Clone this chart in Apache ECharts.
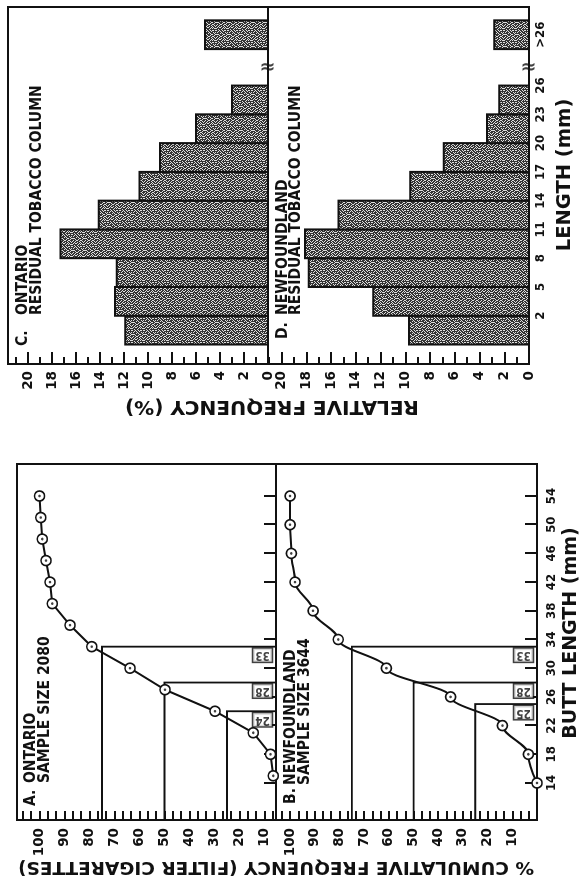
<!DOCTYPE html>
<html>
<head>
<meta charset="utf-8">
<script src="https://cdn.jsdelivr.net/npm/echarts@6/dist/echarts.min.js"></script>
<style>
html,body{margin:0;padding:0;width:580px;height:891px;overflow:hidden;background:#fff}
#chart{position:absolute;left:0;top:0;width:891px;height:580px;transform-origin:0 0;transform:translate(0,891px) rotate(-90deg);}
</style>
</head>
<body>
<div id="chart"></div>
<script>
// ---------------- DATA ----------------
const ontarioButtMm = [15, 18, 21, 24, 27, 30, 33, 36, 39, 42, 45, 48, 51, 54];
const ontarioCumPct = [6.5, 7.6, 14.5, 29.8, 49.8, 63.8, 79.1, 87.8, 94.9, 95.8, 97.4, 98.9, 99.5, 100];
const nfldButtMm = [14, 18, 22, 26, 30, 34, 38, 42, 46, 50, 54];
const nfldCumPct = [0, 3.5, 14, 35, 61, 80.5, 90.7, 98, 99.5, 100, 100];
const quartilePct = [25, 50, 75];
const ontarioQuartileMm = [24, 28, 33];
const nfldQuartileMm = [25, 28, 33];
const buttLengthTicks = [14, 18, 22, 26, 30, 34, 38, 42, 46, 50, 54];
const cumPctTicks = [10, 20, 30, 40, 50, 60, 70, 80, 90, 100];
const residualBinEdges = [-1, 2, 5, 8, 11, 14, 17, 20, 23, 26];
const residualEdgeLabels = ['2', '5', '8', '11', '14', '17', '20', '23', '26'];
const overflowLabel = '>26';
const ontarioResidualPct = [11.9, 12.75, 12.6, 17.3, 14.1, 10.7, 9.0, 6.0, 3.0];
const ontarioOver26Pct = 5.25;
const nfldResidualPct = [9.7, 12.6, 17.8, 18.1, 15.4, 9.6, 6.9, 3.4, 2.4];
const nfldOver26Pct = 2.8;
const relFreqTicks = [0, 2, 4, 6, 8, 10, 12, 14, 16, 18, 20];

// ---------------- LAYOUT ----------------
const A_X = [8.84, 58.46], A_Y = [5.4, 109];
const B_Y = [0, 105.7];
const C_X = [-3.03, 34.19], C_Y = [0, 21.67], D_Y = [0, 21.1];
const OVER_BIN = [29.8, 32.8];
const OVER_LABEL_AT = 31.3;
const BREAK_AT = 28.1;

const FONT = "'DejaVu Sans', sans-serif";
const FONT_C = "'DejaVu Sans Condensed', 'Liberation Sans Narrow', 'DejaVu Sans', sans-serif";
const INK = '#111';

const cumMinorTicks = [];
for (let k = 1; k <= 32; k++) cumMinorTicks.push(k * 10 / 3);

function makeStipple() {
  const rows = [
    '#.##.###.#.#',
    '##.#.#.####.',
    '.###.##.#.##',
    '#.#.####.##.',
    '##.##.#.###.',
    '.#.###.##.##',
    '###.#.##.#.#',
    '#.##.##.###.',
    '.#.#.###.#.#',
    '##.###.#.##.',
    '#.#.#.####.#',
    '.###.#.#.#.#'
  ];
  const n = rows.length;
  const c = document.createElement('canvas');
  c.width = n; c.height = n;
  const ctx = c.getContext('2d');
  rows.forEach((r, y) => {
    for (let x = 0; x < n; x++) {
      ctx.fillStyle = r[x] === '#' ? '#333333' : '#dedede';
      ctx.fillRect(x, y, 1, 1);
    }
  });
  return c;
}
const stipple = makeStipple();

const grids = [
  { left: 71, top: 17, width: 356, height: 259 },   // A
  { left: 71, top: 276, width: 356, height: 261 },  // B
  { left: 527, top: 8, width: 357, height: 260 },   // C
  { left: 527, top: 268, width: 357, height: 261 }  // D
].map(g => Object.assign(g, { show: true, borderColor: INK, borderWidth: 2, backgroundColor: 'transparent', containLabel: false, outerBoundsMode: 'none' }));

function mmAxis(gi, showLabels) {
  return {
    type: 'value', gridIndex: gi, position: 'bottom', offset: 0, min: A_X[0], max: A_X[1],
    axisLine: { show: false, onZero: false }, splitLine: { show: false },
    axisTick: { show: true, inside: true, length: 12, customValues: buttLengthTicks, lineStyle: { color: INK, width: 2 } },
    axisLabel: { show: showLabels, customValues: buttLengthTicks, margin: 8, color: INK, fontFamily: FONT_C, fontWeight: 'bold', fontSize: 13 }
  };
}
function binAxis(gi, showLabels) {
  const vals = residualBinEdges.slice(1).concat([OVER_LABEL_AT]);
  const labs = residualEdgeLabels.concat([overflowLabel]);
  return {
    type: 'value', gridIndex: gi, position: 'bottom', offset: 0, min: C_X[0], max: C_X[1],
    axisLine: { show: false, onZero: false }, splitLine: { show: false }, axisTick: { show: false },
    axisLabel: {
      show: showLabels, customValues: vals, margin: 5, color: INK, fontFamily: FONT_C, fontWeight: 'bold', fontSize: 13,
      formatter: v => { const i = vals.findIndex(x => Math.abs(x - v) < 1e-6); return i >= 0 ? labs[i] : ''; }
    }
  };
}
function cumAxis(gi, ext) {
  return {
    type: 'value', gridIndex: gi, position: 'left', offset: 0, min: ext[0], max: ext[1],
    axisLine: { show: false, onZero: false }, splitLine: { show: false },
    axisTick: { show: true, inside: true, length: 9, customValues: cumMinorTicks.filter(v => v > ext[0] && v < ext[1]), lineStyle: { color: INK, width: 2 } },
    axisLabel: { show: true, customValues: cumPctTicks, margin: 8, color: INK, fontFamily: FONT, fontWeight: 'bold', fontSize: 13.5 }
  };
}
function relAxis(gi, ext) {
  return {
    type: 'value', gridIndex: gi, position: 'left', offset: 0, min: ext[0], max: ext[1], interval: 2,
    axisLine: { show: false, onZero: false }, splitLine: { show: false }, minorSplitLine: { show: false },
    axisTick: { show: true, inside: true, length: 12, lineStyle: { color: INK, width: 2 } },
    minorTick: { show: true, splitNumber: 2, length: 7, lineStyle: { color: INK, width: 2 } },
    axisLabel: { show: true, customValues: relFreqTicks, margin: 7, color: INK, fontFamily: FONT, fontWeight: 'bold', fontSize: 13.5 }
  };
}

function curveSeries(xi, yi, xs, ys, smooth) {
  const pts = xs.map((m, i) => [m, ys[i]]);
  return [
    {
      type: 'line', xAxisIndex: xi, yAxisIndex: yi, data: pts, smooth: smooth, smoothMonotone: 'x',
      symbol: 'circle', symbolSize: 10, showAllSymbol: true, z: 4,
      lineStyle: { color: INK, width: 2 },
      itemStyle: { color: '#fff', borderColor: INK, borderWidth: 1.7 }
    },
    {
      type: 'scatter', xAxisIndex: xi, yAxisIndex: yi, data: pts, symbolSize: 2.6, z: 5,
      itemStyle: { color: INK }
    }
  ];
}
function quartileSeries(xi, yi, qmm, xMin, yMin) {
  return [
    {
      type: 'lines', coordinateSystem: 'cartesian2d', xAxisIndex: xi, yAxisIndex: yi, polyline: true, z: 3,
      lineStyle: { color: INK, width: 1.8, opacity: 1 },
      data: qmm.map((m, i) => ({ coords: [[xMin, quartilePct[i]], [m, quartilePct[i]], [m, yMin]] }))
    },
    {
      type: 'scatter', xAxisIndex: xi, yAxisIndex: yi, symbolSize: 1, z: 6,
      itemStyle: { color: 'transparent' },
      data: qmm.map(m => [m, yMin]),
      label: {
        show: true, formatter: p => String(p.value[0]), rotate: 90, position: [-8, -13],
        align: 'center', verticalAlign: 'middle',
        fontFamily: FONT_C, fontWeight: 'bold', fontSize: 11.5, color: INK,
        backgroundColor: '#fff', borderColor: INK, borderWidth: 1.5, padding: [1, 2, 0, 2]
      }
    }
  ];
}
function barSeries(xi, yi, vals, over) {
  const data = vals.map((v, i) => [residualBinEdges[i], residualBinEdges[i + 1], v]);
  data.push([OVER_BIN[0], OVER_BIN[1], over]);
  return [
    {
      type: 'custom', xAxisIndex: xi, yAxisIndex: yi, data: data, z: 3,
      renderItem: (params, api) => {
        const p0 = api.coord([api.value(0), api.value(2)]);
        const p1 = api.coord([api.value(1), 0]);
        return {
          type: 'rect',
          shape: { x: p0[0], y: p0[1], width: p1[0] - p0[0], height: p1[1] - p0[1] },
          style: { fill: { image: stipple, repeat: 'repeat' }, stroke: INK, lineWidth: 2 }
        };
      }
    },
    {
      type: 'scatter', xAxisIndex: xi, yAxisIndex: yi, symbolSize: 1, z: 7,
      itemStyle: { color: 'transparent' }, data: [[BREAK_AT, 0]],
      label: { show: true, formatter: '\u2248', rotate: 90, position: [0, 0], align: 'center', verticalAlign: 'middle', fontSize: 19, fontWeight: 'bold', color: INK, fontFamily: FONT }
    }
  ];
}

function txt(text, x, y, size, opts) {
  return Object.assign({
    type: 'text', x: x, y: y, silent: true,
    style: { text: text, fill: INK, font: 'bold ' + size + 'px ' + ((opts && opts.cond) ? FONT_C : FONT), textAlign: (opts && opts.align) || 'left', textVerticalAlign: 'middle' }
  }, (opts && opts.rot) ? { rotation: opts.rot } : {});
}

const TS = 15.5;
const graphics = [
  // panel titles
  txt('A.', 85, 31, TS, { cond: true }),
  txt('ONTARIO', 108, 31, TS, { cond: true }),
  txt('SAMPLE SIZE 2080', 108, 44.5, TS, { cond: true }),
  txt('B.', 87, 291, TS, { cond: true }),
  txt('NEWFOUNDLAND', 106, 291, TS, { cond: true }),
  txt('SAMPLE SIZE 3644', 106, 304.5, TS, { cond: true }),
  txt('C.', 545, 23, TS, { cond: true }),
  txt('ONTARIO', 576, 23, TS, { cond: true }),
  txt('RESIDUAL TOBACCO COLUMN', 576, 36.5, TS, { cond: true }),
  txt('D.', 552, 282.5, TS, { cond: true }),
  txt('NEWFOUNDLAND', 576, 282.5, TS, { cond: true }),
  txt('RESIDUAL TOBACCO COLUMN', 576, 296, TS, { cond: true }),
  // axis names
  txt('% CUMULATIVE FREQUENCY (FILTER CIGARETTES)', 24, 276, 18.5, { align: 'center', rot: Math.PI / 2 }),
  txt('RELATIVE FREQUENCY (%)', 485, 272, 20, { align: 'center', rot: Math.PI / 2 }),
  txt('BUTT LENGTH (mm)', 258, 571, 19, { align: 'center' }),
  txt('LENGTH (mm)', 716, 565, 19.5, { align: 'center' })
];

const chart = echarts.init(document.getElementById('chart'), null, { renderer: 'canvas' });
chart.setOption({
  animation: false,
  backgroundColor: '#fff',
  grid: grids,
  xAxis: [mmAxis(0, false), mmAxis(1, true), binAxis(2, false), binAxis(3, true)],
  yAxis: [cumAxis(0, A_Y), cumAxis(1, B_Y), relAxis(2, C_Y), relAxis(3, D_Y)],
  series: [].concat(
    quartileSeries(0, 0, ontarioQuartileMm, A_X[0], A_Y[0]),
    curveSeries(0, 0, ontarioButtMm, ontarioCumPct, false),
    quartileSeries(1, 1, nfldQuartileMm, A_X[0], B_Y[0]),
    curveSeries(1, 1, nfldButtMm, nfldCumPct, 0.35),
    barSeries(2, 2, ontarioResidualPct, ontarioOver26Pct),
    barSeries(3, 3, nfldResidualPct, nfldOver26Pct)
  ),
  graphic: graphics
});
</script>
</body>
</html>
